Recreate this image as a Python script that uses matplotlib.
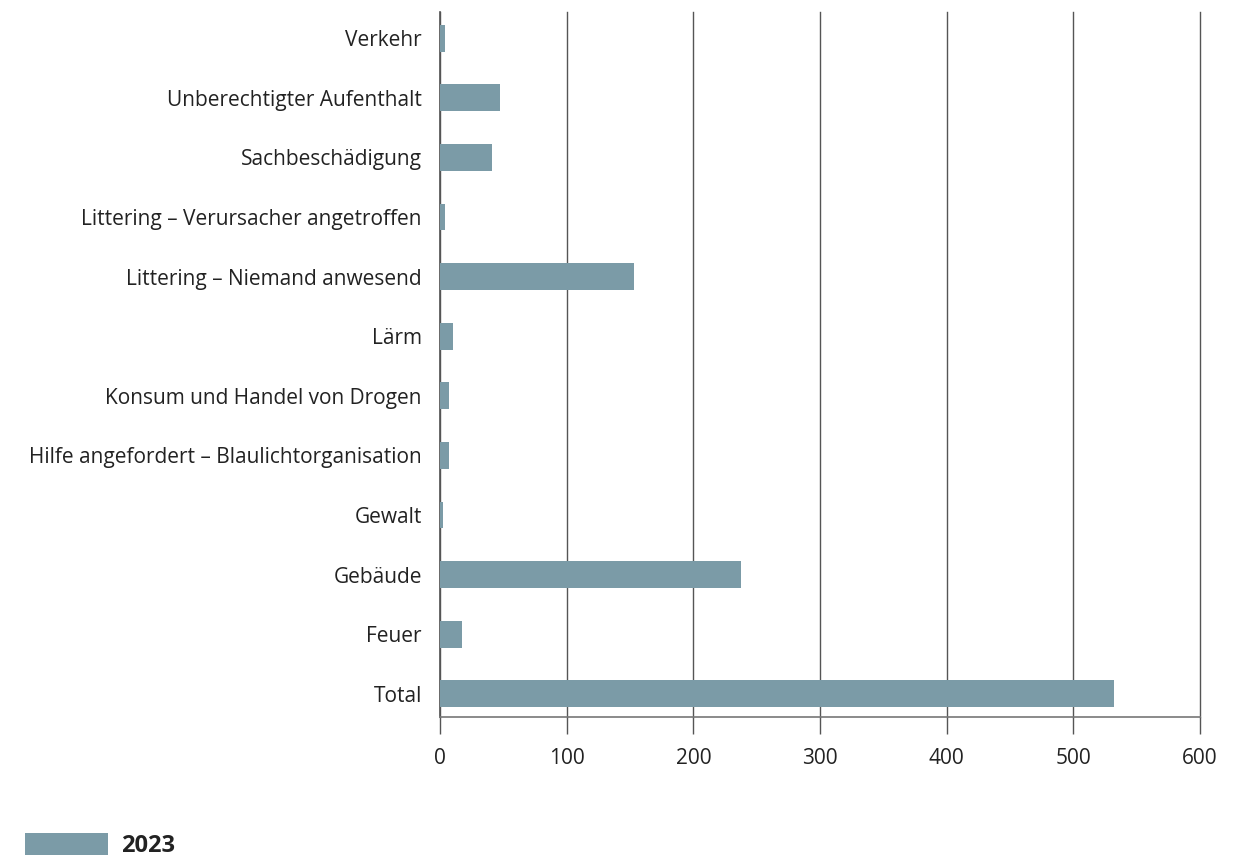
import matplotlib.pyplot as plt

categories = [
    "Verkehr",
    "Unberechtigter Aufenthalt",
    "Sachbeschädigung",
    "Littering – Verursacher angetroffen",
    "Littering – Niemand anwesend",
    "Lärm",
    "Konsum und Handel von Drogen",
    "Hilfe angefordert – Blaulichtorganisation",
    "Gewalt",
    "Gebäude",
    "Feuer",
    "Total",
]
values_2023 = [4, 47, 41, 4, 153, 10, 7, 7, 2, 238, 17, 532]
xticks = [0, 100, 200, 300, 400, 500, 600]

plt.rcParams['font.family'] = ['Open Sans', 'DejaVu Sans']
bar_color = '#7b9ba7'
text_color = '#222222'

fig = plt.figure(figsize=(12.47, 8.57), dpi=100)
ax = fig.add_axes([440 / 1247, 1 - 717 / 857, 760 / 1247, 705 / 857])

n = len(categories)
ypos = [n - 1 - i for i in range(n)]
ax.barh(ypos, values_2023, height=0.45, color=bar_color, label='2023', zorder=3)

ax.set_xlim(0, 600)
ax.set_ylim(-0.39, n - 1 + 0.44)
ax.set_xticks(xticks)
ax.set_xticklabels([str(t) for t in xticks], fontsize=15, color=text_color)
ax.set_yticks(ypos)
ax.set_yticklabels(categories, fontsize=15, color=text_color)

ax.tick_params(axis='y', length=0, pad=13)
ax.tick_params(axis='x', length=12, width=1, color='#555555', pad=10)

ax.grid(axis='x', color='#555555', linewidth=1, zorder=0)
for gl in ax.get_xgridlines():
    gl.set_clip_on(False)
ax.set_axisbelow(True)
for side in ['top', 'right']:
    ax.spines[side].set_visible(False)
ax.spines['left'].set_color('#555555')
ax.spines['bottom'].set_color('#777777')
ax.spines['left'].set_linewidth(1.2)
ax.spines['bottom'].set_linewidth(1.2)

leg = fig.legend(loc='lower left', bbox_to_anchor=(25 / 1247, -1 / 857),
                 frameon=False, fontsize=17, handlelength=3.5, handleheight=1.1,
                 handletextpad=0.55, borderpad=0, borderaxespad=0)
for t in leg.get_texts():
    t.set_fontweight('bold')
    t.set_color(text_color)

fig.savefig('out.png', dpi=100)
